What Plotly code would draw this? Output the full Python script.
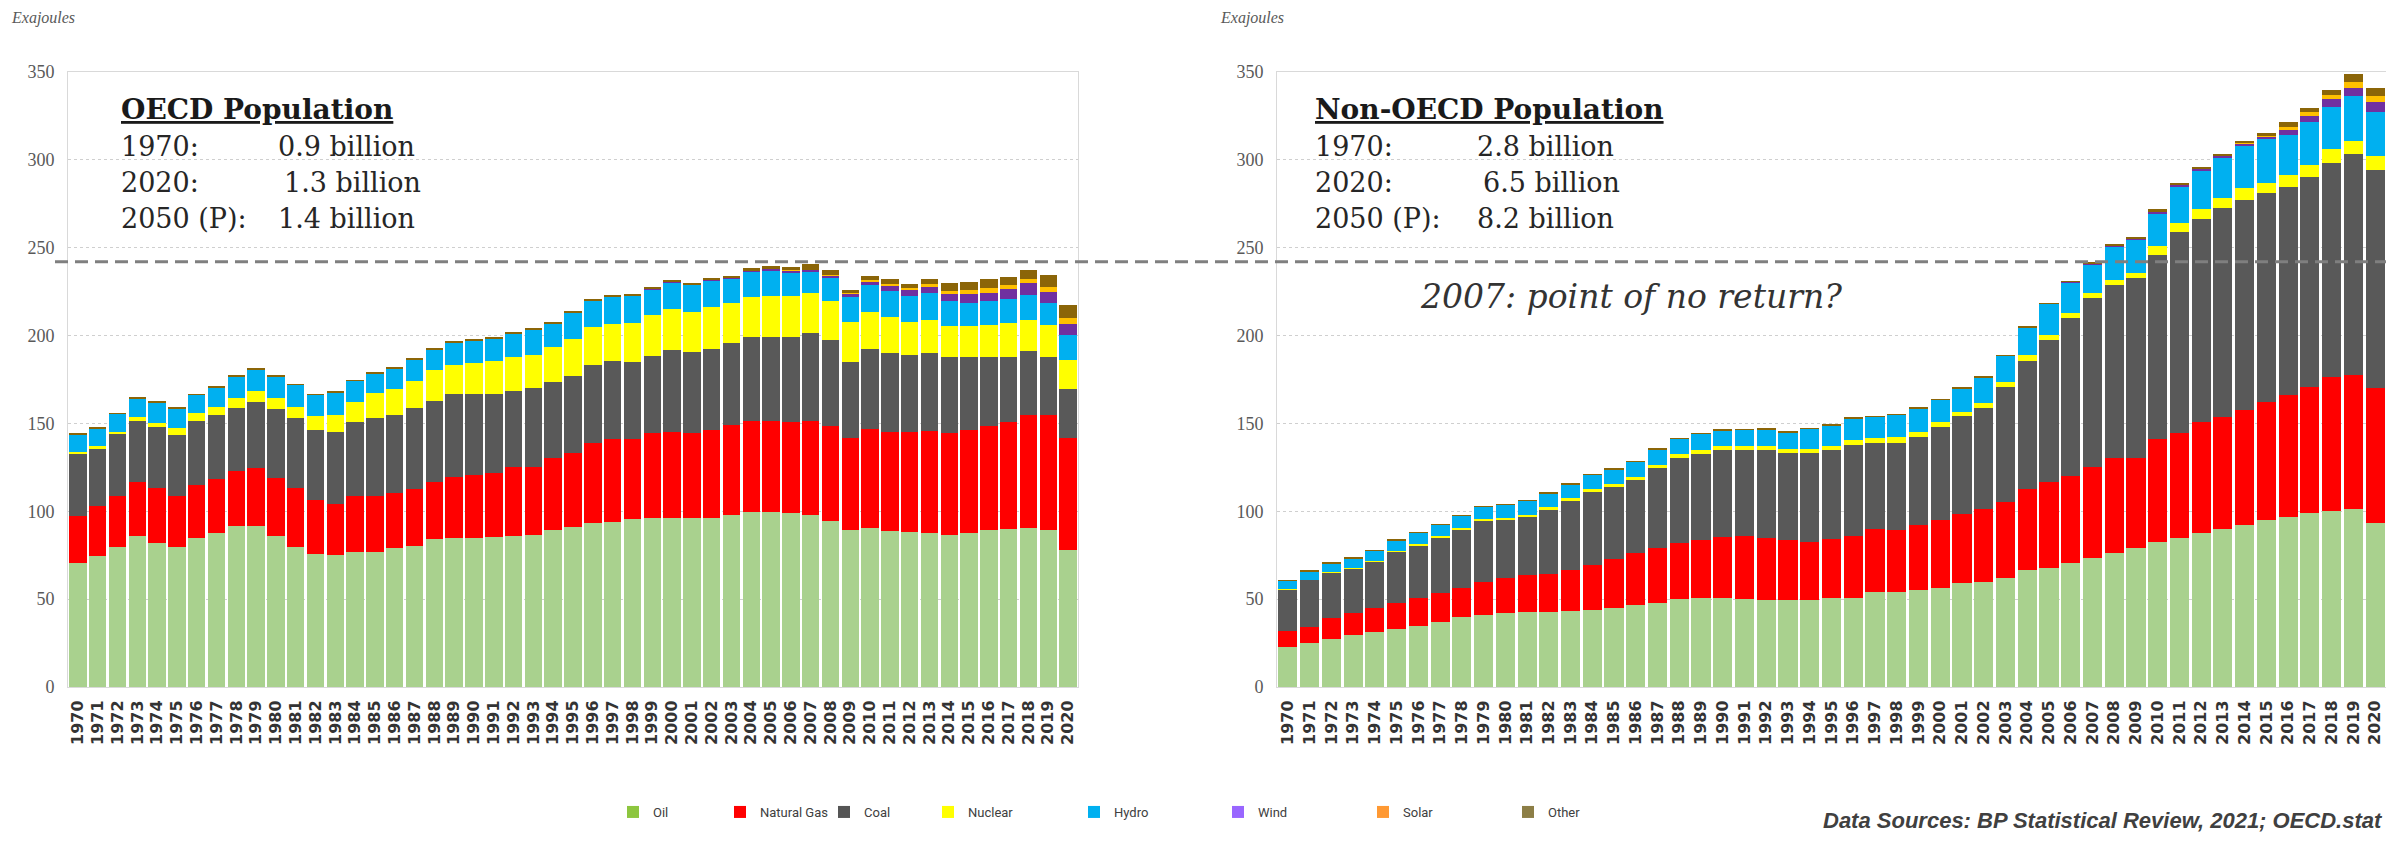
import plotly.graph_objects as go

# ---------------- data ----------------
years = [str(y) for y in range(1970, 2021)]
sources = ["Oil", "Natural Gas", "Coal", "Nuclear", "Hydro", "Wind", "Solar", "Other"]

oecd_oil = [70.4, 74.6, 79.9, 86.0, 82.2, 79.9, 85.0, 87.9, 91.7, 91.7,
            86.0, 79.9, 75.7, 75.1, 77.0, 77.0, 79.3, 80.3, 84.1, 84.6,
            84.6, 85.2, 86.0, 86.5, 89.4, 91.3, 93.2, 94.1, 95.4, 96.0,
            96.0, 96.0, 96.0, 97.9, 99.8, 99.8, 98.9, 97.9, 94.7, 89.4,
            90.3, 89.0, 88.4, 87.9, 86.5, 87.5, 89.4, 89.8, 90.3, 89.4,
            78.0]
oecd_gas = [26.9, 28.4, 29.0, 30.9, 30.9, 29.0, 30.0, 30.5, 31.4, 32.8,
            32.8, 33.2, 30.8, 29.1, 31.7, 31.7, 30.9, 32.2, 32.8, 35.1,
            36.1, 36.8, 39.4, 38.9, 40.8, 41.7, 45.5, 46.9, 45.6, 48.8,
            49.4, 48.4, 50.3, 51.2, 51.8, 51.8, 52.1, 53.7, 53.9, 52.2,
            56.4, 56.4, 57.0, 58.0, 57.9, 58.8, 59.2, 61.2, 64.5, 65.4,
            63.6]
oecd_coal = [35.3, 32.9, 35.1, 34.7, 34.7, 34.6, 36.6, 36.4, 35.5, 37.9,
             39.3, 39.9, 39.8, 41.2, 42.3, 44.2, 44.6, 46.1, 46.1, 46.9,
             45.9, 44.6, 43.1, 44.8, 43.6, 44.0, 44.6, 44.8, 44.2, 43.6,
             46.4, 46.5, 45.9, 46.5, 47.4, 47.4, 48.0, 49.7, 48.9, 43.6,
             45.5, 44.5, 43.6, 44.0, 43.3, 41.4, 39.1, 37.0, 36.7, 32.9,
             27.8]
oecd_nuclear = [1.0, 1.1, 1.2, 2.0, 2.7, 3.7, 4.2, 4.8, 5.7, 6.3,
                6.2, 6.6, 8.2, 9.4, 11.0, 14.3, 14.6, 15.6, 17.5, 16.7,
                17.7, 19.2, 19.5, 19.0, 19.9, 20.9, 21.4, 20.8, 22.2, 23.4,
                23.2, 22.8, 24.3, 23.2, 22.8, 23.6, 23.6, 22.8, 21.9, 22.8,
                21.5, 20.9, 19.0, 19.0, 17.8, 17.8, 18.4, 19.2, 17.4, 18.4,
                16.7]
oecd_hydro = [9.9, 10.2, 10.2, 10.7, 11.4, 11.4, 10.4, 11.0, 12.4, 12.1,
              12.4, 12.3, 11.7, 12.8, 12.2, 11.4, 12.0, 12.3, 11.7, 12.7,
              12.9, 12.7, 13.3, 14.0, 12.9, 15.2, 15.2, 15.6, 15.2, 14.6,
              15.4, 15.1, 14.8, 13.8, 14.4, 14.3, 13.3, 11.9, 13.2, 14.2,
              14.9, 14.8, 14.6, 15.1, 13.9, 12.9, 13.3, 13.5, 14.2, 12.3,
              14.3]
oecd_wind = [0.0, 0.0, 0.0, 0.0, 0.0, 0.0, 0.0, 0.0, 0.0, 0.0,
             0.0, 0.0, 0.0, 0.0, 0.0, 0.0, 0.0, 0.0, 0.0, 0.0,
             0.0, 0.0, 0.0, 0.0, 0.0, 0.1, 0.1, 0.2, 0.2, 0.3,
             0.3, 0.4, 0.5, 0.5, 0.6, 0.9, 1.1, 1.4, 1.8, 2.0,
             2.4, 2.7, 3.1, 3.4, 4.3, 5.2, 5.1, 5.7, 6.7, 6.6,
             6.2]
oecd_solar = [0.0] * 36 + [0.05, 0.1, 0.2, 0.3,
                           0.5, 0.9, 1.3, 1.7, 1.9, 2.4, 2.6, 2.4, 2.3, 2.9,
                           3.3]
oecd_other = [0.5, 0.5, 0.5, 0.5, 0.5, 0.5, 0.5, 0.5, 0.5, 0.5,
              0.5, 0.5, 0.5, 0.5, 0.5, 0.5, 0.5, 0.5, 0.5, 0.5,
              0.7, 0.7, 0.7, 0.7, 0.7, 0.7, 0.7, 0.7, 0.7, 0.7,
              1.0, 1.0, 1.0, 1.0, 1.7, 1.9, 2.0, 3.5, 2.6, 1.5,
              2.6, 2.9, 2.4, 3.0, 4.2, 4.7, 5.0, 4.8, 5.3, 6.6,
              7.6]

non_oil = [23.0, 24.9, 27.1, 29.6, 31.5, 32.8, 34.7, 37.2, 39.7, 41.0,
           41.9, 42.9, 42.9, 43.5, 43.8, 44.8, 46.7, 48.0, 49.9, 50.5,
           50.5, 49.9, 49.5, 49.3, 49.5, 50.5, 50.5, 54.3, 54.3, 55.2,
           56.2, 59.0, 60.0, 61.9, 66.6, 67.5, 70.4, 73.2, 76.1, 78.9,
           82.7, 84.6, 87.5, 89.7, 92.2, 95.1, 97.0, 98.8, 100.4, 101.1,
           93.5]
non_gas = [9.1, 9.4, 12.0, 12.7, 13.3, 14.8, 15.8, 16.1, 16.5, 19.0,
           20.0, 20.9, 21.4, 23.1, 25.6, 27.9, 29.8, 30.9, 31.9, 33.2,
           35.1, 36.1, 35.1, 34.4, 33.2, 33.5, 35.5, 35.4, 35.1, 37.0,
           38.9, 39.5, 41.1, 43.6, 45.9, 49.4, 49.7, 52.2, 54.1, 51.3,
           58.3, 60.2, 63.5, 64.2, 65.5, 67.3, 69.2, 72.1, 76.2, 76.5,
           76.5]
non_coal = [23.5, 26.6, 26.0, 25.3, 26.5, 29.4, 30.3, 31.9, 33.6, 34.7,
            33.5, 33.2, 36.8, 39.5, 41.8, 41.0, 41.3, 45.6, 48.4, 48.9,
            49.3, 48.9, 50.3, 49.3, 50.3, 50.9, 51.7, 49.0, 49.7, 50.3,
            53.1, 55.7, 57.5, 65.4, 73.2, 80.6, 89.7, 95.8, 98.6, 102.4,
            104.9, 114.4, 115.2, 118.5, 119.5, 118.6, 118.6, 119.6, 121.4, 125.8,
            124.3]
non_nuclear = [0.1, 0.1, 0.2, 0.3, 0.4, 0.5, 0.5, 0.6, 0.7, 0.8,
               0.9, 1.0, 1.1, 1.3, 1.6, 1.8, 1.9, 2.0, 2.2, 2.3,
               2.3, 2.3, 2.3, 2.3, 2.3, 2.3, 2.9, 2.8, 3.0, 2.8,
               2.8, 2.5, 2.9, 2.9, 3.3, 2.8, 2.9, 2.9, 2.8, 2.8,
               5.1, 5.1, 5.7, 6.1, 6.6, 6.0, 6.6, 6.6, 8.0, 7.6,
               7.9]
non_hydro = [4.8, 5.0, 5.2, 5.5, 5.8, 6.1, 6.4, 6.7, 7.0, 7.3,
             7.6, 7.9, 8.2, 8.0, 8.0, 8.4, 8.6, 8.8, 9.0, 9.2,
             9.0, 9.3, 9.5, 9.8, 11.6, 11.9, 12.3, 12.4, 12.7, 13.3,
             12.4, 13.3, 14.8, 14.6, 15.8, 17.8, 17.7, 16.5, 19.0, 19.1,
             18.6, 20.5, 22.0, 22.4, 24.1, 24.7, 22.8, 24.7, 24.3, 25.4,
             25.3]
non_wind = [0.0] * 36 + [0.1, 0.2, 0.4, 0.6,
                         0.8, 0.9, 1.1, 1.3, 1.5, 1.8, 3.0, 3.4, 4.2, 4.4,
                         5.5]
non_solar = [0.0] * 40 + [0.1, 0.1, 0.2, 0.3, 0.4, 0.6, 1.4, 1.8, 2.5, 3.7,
                          3.3]
non_other = [0.1] * 10 + [0.2] * 10 + [0.3] * 10 + [
    0.3, 0.3, 0.3, 0.3, 0.3, 0.3, 0.3, 1.2, 0.6, 1.2,
    1.4, 0.9, 0.9, 0.9, 0.6, 1.0, 3.2, 2.4, 2.8, 4.4,
    4.4]

threshold_2007 = 242  # OECD 2007 peak level (dashed line)

bar_colors = ["#a9d18e", "#ff0000", "#595959", "#ffff00",
              "#00b0f0", "#7030a0", "#ffc000", "#8b6508"]
legend_colors = ["#8dc63f", "#ff0000", "#555555", "#ffff00",
                 "#00b0f0", "#9966ff", "#ff9933", "#8c7e46"]

oecd = [oecd_oil, oecd_gas, oecd_coal, oecd_nuclear, oecd_hydro, oecd_wind, oecd_solar, oecd_other]
nonoecd = [non_oil, non_gas, non_coal, non_nuclear, non_hydro, non_wind, non_solar, non_other]

# ---------------- figure ----------------
# the page places the plot 8px in from the top-left corner, so the figure is
# 8px smaller and screen positions are shifted accordingly
OFF = 8
W, H = 2394 - OFF, 841 - OFF


def fx(px):
    return (px - OFF) / W


def fy(py):
    return 1 - (py - OFF) / H


fig = go.Figure()
for name, vals, col in zip(sources, oecd, bar_colors):
    fig.add_trace(go.Bar(x=years, y=vals, name=name, marker=dict(color=col, line=dict(width=0)),
                         xaxis="x", yaxis="y", showlegend=False))
for name, vals, col in zip(sources, nonoecd, bar_colors):
    fig.add_trace(go.Bar(x=years, y=vals, name=name, marker=dict(color=col, line=dict(width=0)),
                         xaxis="x2", yaxis="y2", showlegend=False))

# legend-only entries, each in its own legend so that it can be placed freely
legend_px = [613, 720, 824, 928, 1074, 1218, 1363, 1508]
legend_layouts = {}
for i, (name, col, lx) in enumerate(zip(sources, legend_colors, legend_px)):
    key = "legend" if i == 0 else f"legend{i + 1}"
    fig.add_trace(go.Bar(x=[None], y=[None], name=name, marker=dict(color=col),
                         xaxis="x", yaxis="y", showlegend=True, legend=key))
    legend_layouts[key] = dict(
        x=fx(lx), y=fy(812), xanchor="left", yanchor="middle",
        orientation="h", bgcolor="rgba(0,0,0,0)", borderwidth=0,
        font=dict(family="Roboto, Liberation Sans, sans-serif", size=13, color="#404040"),
        itemwidth=30, itemclick=False, itemdoubleclick=False,
    )

serif = "Liberation Serif, DejaVu Serif, serif"
xaxis_common = dict(
    type="category", tickmode="linear", tick0=0, dtick=1,
    tickangle=-90, showgrid=False, ticks="", automargin=False,
    tickfont=dict(family="DejaVu Sans, sans-serif", size=16, color="#333333", weight="bold"),
    showline=True, linecolor="#d9d9d9", linewidth=1, mirror=True,
    ticklabelstandoff=6,
)
yaxis_common = dict(
    range=[0, 350], dtick=50, tick0=0, showgrid=True, gridcolor="#cfcfcf", griddash="dot",
    gridwidth=1, zeroline=False, showline=True, linecolor="#d9d9d9", linewidth=1, mirror=True,
    automargin=False,
    tickfont=dict(family=serif, size=18, color="#595959"), ticks="", ticklabelstandoff=9,
)

fig.update_layout(
    template="none",
    width=W, height=H, margin=dict(l=0, r=0, t=0, b=0, pad=0, autoexpand=False),
    paper_bgcolor="white", plot_bgcolor="white",
    barmode="stack", bargap=0.12,
    xaxis=dict(domain=[fx(68), fx(1078)], anchor="y", **xaxis_common),
    yaxis=dict(domain=[fy(687), fy(72)], anchor="x", **yaxis_common),
    xaxis2=dict(domain=[fx(1277), fx(2386)], anchor="y2", **xaxis_common),
    yaxis2=dict(domain=[fy(687), fy(72)], anchor="x2", **yaxis_common),
    **legend_layouts,
)

# dashed reference line across both panels
fig.add_shape(type="line", xref="paper", yref="y", x0=fx(55), x1=1.0,
              y0=threshold_2007, y1=threshold_2007,
              line=dict(color="#7f7f7f", width=3, dash="13px,7px"), layer="above")

ann = []


def text(x, y, s, size, family=serif, color="#262626", xanchor="left", **kw):
    ann.append(dict(x=fx(x), y=fy(y), xref="paper", yref="paper", text=s, showarrow=False,
                    xanchor=xanchor, yanchor="middle",
                    font=dict(family=family, size=size, color=color, **kw)))


# unit labels
text(9, 18, "<i>Exajoules</i>", 16, color="#595959")
text(1218, 18, "<i>Exajoules</i>", 16, color="#595959")

# population boxes
pop_font = "DejaVu Serif, Liberation Serif, serif"
text(119, 109, "<b><u>OECD Population</u></b>", 28, family=pop_font, color="#1a1a1a")
text(119, 146, "1970:", 27, family=pop_font)
text(276, 146, "0.9 billion", 27, family=pop_font)
text(119, 182, "2020:", 27, family=pop_font)
text(282, 182, "1.3 billion", 27, family=pop_font)
text(119, 218, "2050 (P):", 27, family=pop_font)
text(276, 218, "1.4 billion", 27, family=pop_font)

text(1313, 109, "<b><u>Non-OECD Population</u></b>", 28, family=pop_font, color="#1a1a1a")
text(1313, 146, "1970:", 27, family=pop_font)
text(1475, 146, "2.8 billion", 27, family=pop_font)
text(1313, 182, "2020:", 27, family=pop_font)
text(1481, 182, "6.5 billion", 27, family=pop_font)
text(1313, 218, "2050 (P):", 27, family=pop_font)
text(1475, 218, "8.2 billion", 27, family=pop_font)

text(1418, 296, "<i>2007: point of no return?</i>", 33, family=pop_font, color="#333333")

text(2385, 820, "<i><b>Data Sources: BP Statistical Review, 2021; OECD.stat</b></i>", 22,
     family="Liberation Sans, Arial, sans-serif", color="#404040", xanchor="right")

fig.update_layout(annotations=ann)

fig.write_html("out.html")
